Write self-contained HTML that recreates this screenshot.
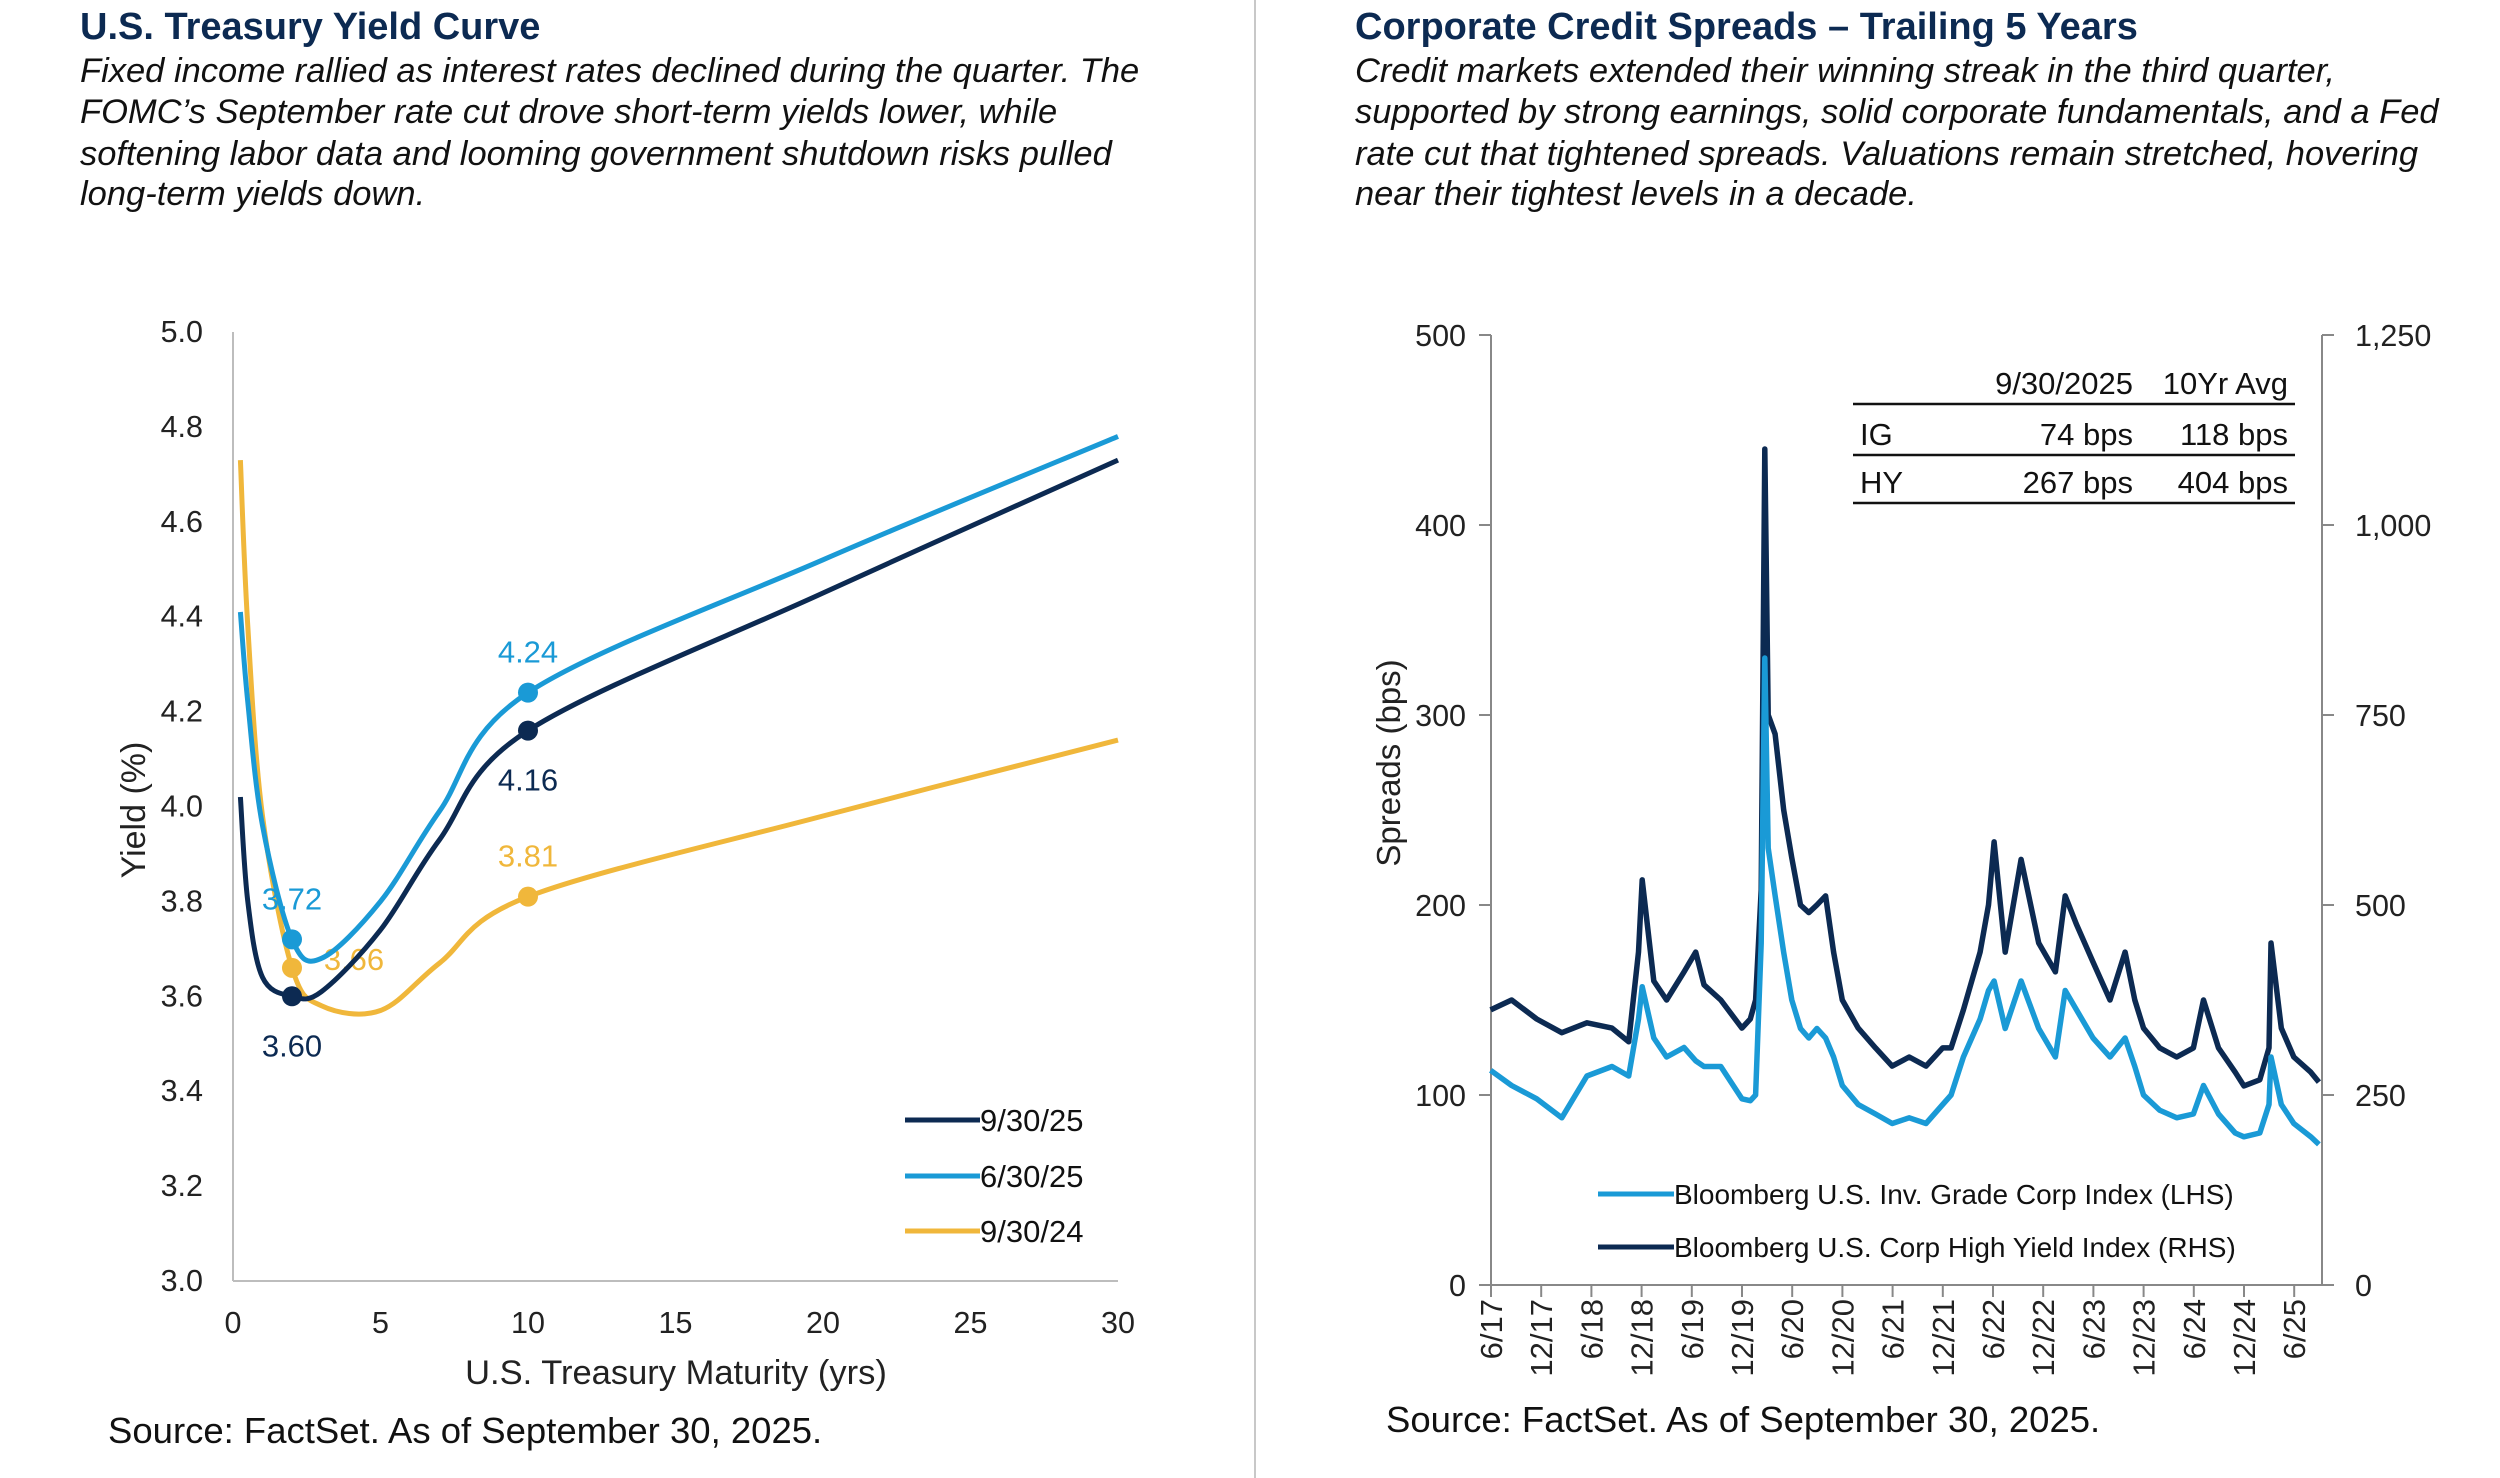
<!DOCTYPE html>
<html><head><meta charset="utf-8">
<style>
html,body{margin:0;padding:0;background:#fff;}
svg{display:block;font-family:"Liberation Sans",Arial,sans-serif;}
</style></head>
<body>
<svg id="root" width="2500" height="1478" viewBox="0 0 2500 1478" xmlns="http://www.w3.org/2000/svg">
  <line x1="1255" y1="0" x2="1255" y2="1478" stroke="#c8c8c8" stroke-width="2"/>
  <g>
    <text x="80" y="39" font-size="38" font-weight="bold" fill="#0c2a52">U.S. Treasury Yield Curve</text>
    <g font-size="34.5" font-style="italic" fill="#111">
      <text x="80" y="82">Fixed income rallied as interest rates declined during the quarter. The</text>
      <text x="80" y="123">FOMC’s September rate cut drove short-term yields lower, while</text>
      <text x="80" y="165">softening labor data and looming government shutdown risks pulled</text>
      <text x="80" y="205">long-term yields down.</text>
    </g>
  </g>
  <g>
    <text x="1355" y="39" font-size="38" font-weight="bold" fill="#0c2a52">Corporate Credit Spreads – Trailing 5 Years</text>
    <g font-size="34.5" font-style="italic" fill="#111">
      <text x="1355" y="82">Credit markets extended their winning streak in the third quarter,</text>
      <text x="1355" y="123">supported by strong earnings, solid corporate fundamentals, and a Fed</text>
      <text x="1355" y="165">rate cut that tightened spreads. Valuations remain stretched, hovering</text>
      <text x="1355" y="205">near their tightest levels in a decade.</text>
    </g>
  </g>
  <g id="left-chart"></g>
  <g id="right-chart"></g>
  <text x="108" y="1443" font-size="36.5" fill="#111">Source: FactSet. As of September 30, 2025.</text>
  <text x="1386" y="1432" font-size="36.5" fill="#111">Source: FactSet. As of September 30, 2025.</text>
</svg>
<script>
// ---- Yield curve data ----
const maturities = [0.25, 0.5, 1, 2, 3, 5, 7, 10, 20, 30];
const yields093025 = [4.02, 3.80, 3.64, 3.60, 3.61, 3.74, 3.93, 4.16, 4.45, 4.73];
const yields063025 = [4.41, 4.22, 3.96, 3.72, 3.68, 3.80, 3.99, 4.24, 4.52, 4.78];
const yields093024 = [4.73, 4.38, 3.98, 3.66, 3.58, 3.57, 3.67, 3.81, 3.98, 4.14];
const yieldTicks = ["3.0","3.2","3.4","3.6","3.8","4.0","4.2","4.4","4.6","4.8","5.0"];
const maturityTicks = ["0","5","10","15","20","25","30"];
const seriesNames = ["9/30/25","6/30/25","9/30/24"];

// ---- Credit spread data ----
const spreadDates = ["2017-06-30","2017-09-15","2017-12-15","2018-03-15","2018-06-15","2018-09-15","2018-11-15","2018-12-20","2019-01-03","2019-02-15","2019-03-31","2019-06-03","2019-07-15","2019-08-15","2019-10-15","2019-12-31","2020-01-31","2020-02-20","2020-03-10","2020-03-23","2020-04-05","2020-04-30","2020-05-31","2020-06-30","2020-07-31","2020-08-31","2020-09-30","2020-10-31","2020-11-30","2020-12-31","2021-02-28","2021-04-30","2021-06-30","2021-08-31","2021-10-31","2021-12-31","2022-01-31","2022-03-15","2022-05-15","2022-06-15","2022-07-05","2022-08-15","2022-10-12","2022-12-15","2023-02-15","2023-03-20","2023-04-30","2023-06-30","2023-08-31","2023-10-25","2023-11-30","2023-12-31","2024-02-29","2024-04-30","2024-06-30","2024-08-06","2024-09-30","2024-11-30","2024-12-31","2025-02-28","2025-03-31","2025-04-08","2025-05-15","2025-06-30","2025-08-31","2025-09-30"];
const igSpreads = [113,105,98,88,110,115,110,140,157,130,120,125,118,115,115,98,97,100,180,330,230,205,175,150,135,130,135,130,120,105,95,90,85,88,85,95,100,120,140,155,160,135,160,135,120,155,145,130,120,130,115,100,92,88,90,105,90,80,78,80,95,120,95,85,78,74];
const hySpreads = [362,375,350,332,345,338,320,438,533,400,375,412,438,395,375,338,350,375,520,1100,750,725,625,562,500,490,500,512,438,375,338,312,288,300,288,312,312,362,438,500,583,438,560,450,412,512,475,425,375,438,375,338,312,300,312,375,312,280,262,270,312,450,338,300,280,267];
const lhsTicks = ["0","100","200","300","400","500"];
const rhsTicks = ["0","250","500","750","1,000","1,250"];
const dateTicks = ["6/17","12/17","6/18","12/18","6/19","12/19","6/20","12/20","6/21","12/21","6/22","12/22","6/23","12/23","6/24","12/24","6/25"];

const NS = "http://www.w3.org/2000/svg";
function mk(tag, attrs, parent){ const e=document.createElementNS(NS,tag); for(const k in attrs) e.setAttribute(k,attrs[k]); if(parent) parent.appendChild(e); return e; }
function smoothPath(pts){
  let d = "M"+pts[0][0].toFixed(1)+","+pts[0][1].toFixed(1);
  for(let i=0;i<pts.length-1;i++){
    const p0=pts[Math.max(0,i-1)], p1=pts[i], p2=pts[i+1], p3=pts[Math.min(pts.length-1,i+2)];
    const c1=[p1[0]+(p2[0]-p0[0])/6, p1[1]+(p2[1]-p0[1])/6];
    const c2=[p2[0]-(p3[0]-p1[0])/6, p2[1]-(p3[1]-p1[1])/6];
    d+=" C"+c1[0].toFixed(1)+","+c1[1].toFixed(1)+" "+c2[0].toFixed(1)+","+c2[1].toFixed(1)+" "+p2[0].toFixed(1)+","+p2[1].toFixed(1);
  }
  return d;
}

// ===== Left chart =====
(function(){
  const g = document.getElementById("left-chart");
  const X0=233, X1=1118, Y0=1281, Y1=332;
  const xS = v => X0 + (v-0)/(30-0)*(X1-X0);
  const yS = v => Y0 - (v-3.0)/(5.0-3.0)*(Y0-Y1);
  const axes = mk("g",{},g);
  
  
  const ya = mk("line",{x1:X0,y1:Y1,x2:X0,y2:Y0,stroke:"#bdbdbd","stroke-width":2},axes);
  
  
  const xa = mk("line",{x1:X0,y1:Y0,x2:X1,y2:Y0,stroke:"#bdbdbd","stroke-width":2},axes);
  
  
  yieldTicks.forEach(t=>{
    const tx = mk("text",{x:203,y:yS(parseFloat(t))+10,"font-size":30.5,"text-anchor":"end",fill:"#222"},axes);
    tx.textContent=t;
    
    
  });
  maturityTicks.forEach(t=>{
    const tx = mk("text",{x:xS(parseFloat(t)),y:1333,"font-size":30.5,"text-anchor":"middle",fill:"#222"},axes);
    tx.textContent=t;
    
    
  });
  const yt = mk("text",{x:0,y:0,"font-size":34,"text-anchor":"middle",fill:"#222",transform:"translate(145,810) rotate(-90)"},axes);
  yt.textContent="Yield (%)";
  
  
  const xt = mk("text",{x:676,y:1384,"font-size":34.5,"text-anchor":"middle",fill:"#222"},axes);
  xt.textContent="U.S. Treasury  Maturity (yrs)";
  
  

  const series = [
    {vals:yields093024, color:"#f0b73b", name:"series-9-30-24", lblPos:[62,2], l10:[0,-30]},
    {vals:yields063025, color:"#1a9ad6", name:"series-6-30-25", lblPos:[0,-30], l10:[0,-30]},
    {vals:yields093025, color:"#0c2a52", name:"series-9-30-25", lblPos:[0,60], l10:[0,60]}
  ];
  series.forEach(s=>{
    const sg = mk("g",{},g);
    
    
    const pts = maturities.map((m,i)=>[xS(m),yS(s.vals[i])]);
    const p = mk("path",{d:smoothPath(pts),fill:"none",stroke:s.color,"stroke-width":5,"stroke-linejoin":"round"},sg);
    
    
    [3,7].forEach((idx,k)=>{
      const cx=xS(maturities[idx]), cy=yS(s.vals[idx]);
      const c = mk("circle",{cx:cx,cy:cy,r:10,fill:s.color},sg);
      
      
      const off = k===0 ? s.lblPos : s.l10;
      const t = mk("text",{x:cx+off[0],y:cy+off[1],"font-size":31,"text-anchor":"middle",fill:s.color},sg);
      t.textContent = s.vals[idx].toFixed(2);
      
      
    });
  });
  const legColors=["#0c2a52","#1a9ad6","#f0b73b"];
  const legY=[1120,1176,1231];
  seriesNames.forEach((n,i)=>{
    const lg = mk("g",{},g);
    
    
    mk("line",{x1:905,y1:legY[i],x2:980,y2:legY[i],stroke:legColors[i],"stroke-width":5},lg);
    const t = mk("text",{x:980,y:legY[i]+11,"font-size":31,fill:"#111"},lg);
    t.textContent=n;
  });
})();

// ===== Right chart =====
(function(){
  const g = document.getElementById("right-chart");
  const X0=1491, X1=2322, Y0=1285, Y1=335;
  const t0 = 2017.5, halfPx = 50.2;
  const toYear = s => { const [y,m,d]=s.split("-").map(Number); return y + (m-1)/12 + (d-1)/365; };
  const xS = yr => X0 + (yr - t0)*2*halfPx;
  const yL = v => Y0 - v/500*(Y0-Y1);
  const yR = v => Y0 - v/1250*(Y0-Y1);
  const ax = mk("g",{stroke:"#888","stroke-width":2},g);
  
  
  mk("line",{x1:X0,y1:Y1,x2:X0,y2:Y0},ax);
  mk("line",{x1:X1,y1:Y1,x2:X1,y2:Y0},ax);
  mk("line",{x1:X0,y1:Y0,x2:X1,y2:Y0},ax);
  lhsTicks.forEach(t=>{
    const v=parseFloat(t.replace(",",""));
    mk("line",{x1:X0-12,y1:yL(v),x2:X0,y2:yL(v)},ax);
    const tx = mk("text",{x:1466,y:yL(v)+11,"font-size":30.5,"text-anchor":"end",fill:"#222",stroke:"none"},g);
    tx.textContent=t;
    
    
  });
  rhsTicks.forEach(t=>{
    const v=parseFloat(t.replace(",",""));
    mk("line",{x1:X1,y1:yR(v),x2:X1+12,y2:yR(v)},ax);
    const tx = mk("text",{x:2355,y:yR(v)+11,"font-size":30.5,"text-anchor":"start",fill:"#222",stroke:"none"},g);
    tx.textContent=t;
    
    
  });
  dateTicks.forEach((t,i)=>{
    const x = X0 + i*halfPx;
    mk("line",{x1:x,y1:Y0,x2:x,y2:Y0+12},ax);
    const tx = mk("text",{x:0,y:0,"font-size":31,"text-anchor":"end",fill:"#222",transform:"translate("+(x+11)+","+(Y0+14)+") rotate(-90)"},g);
    tx.textContent=t;
    
    
  });
  const yt = mk("text",{x:0,y:0,"font-size":33,"text-anchor":"middle",fill:"#222",transform:"translate(1400,763) rotate(-90)"},g);
  yt.textContent="Spreads (bps)";
  
  

  const hyPts = spreadDates.map((d,i)=>xS(toYear(d)).toFixed(1)+","+yR(hySpreads[i]).toFixed(1)).join(" ");
  const hy = mk("polyline",{points:hyPts,fill:"none",stroke:"#0c2a52","stroke-width":5.5,"stroke-linejoin":"round"},g);
  
  
  const igPts = spreadDates.map((d,i)=>xS(toYear(d)).toFixed(1)+","+yL(igSpreads[i]).toFixed(1)).join(" ");
  const ig = mk("polyline",{points:igPts,fill:"none",stroke:"#1a9ad6","stroke-width":5.5,"stroke-linejoin":"round"},g);
  
  

  // table
  const tb = mk("g",{"font-size":31,fill:"#111"},g);
  
  
  const cells = [
    ["", "9/30/2025", "10Yr Avg", 394],
    ["IG", "74 bps", "118 bps", 445],
    ["HY", "267 bps", "404 bps", 493]
  ];
  cells.forEach(r=>{
    const a=mk("text",{x:1860,y:r[3]},tb); a.textContent=r[0];
    const b=mk("text",{x:2133,y:r[3],"text-anchor":"end"},tb); b.textContent=r[1];
    const c=mk("text",{x:2288,y:r[3],"text-anchor":"end"},tb); c.textContent=r[2];
  });
  [404,455,503].forEach(y=>mk("line",{x1:1853,y1:y,x2:2295,y2:y,stroke:"#111","stroke-width":2.5},tb));

  // legend
  const legs=[["Bloomberg U.S. Inv. Grade Corp Index (LHS)","#1a9ad6",1194],["Bloomberg U.S. Corp High Yield Index (RHS)","#0c2a52",1247]];
  legs.forEach(l=>{
    const lg = mk("g",{},g);
    
    
    mk("line",{x1:1598,y1:l[2],x2:1674,y2:l[2],stroke:l[1],"stroke-width":5},lg);
    const t=mk("text",{x:1674,y:l[2]+10,"font-size":28,fill:"#111"},lg);
    t.textContent=l[0];
  });
})();
</script>
</body></html>
